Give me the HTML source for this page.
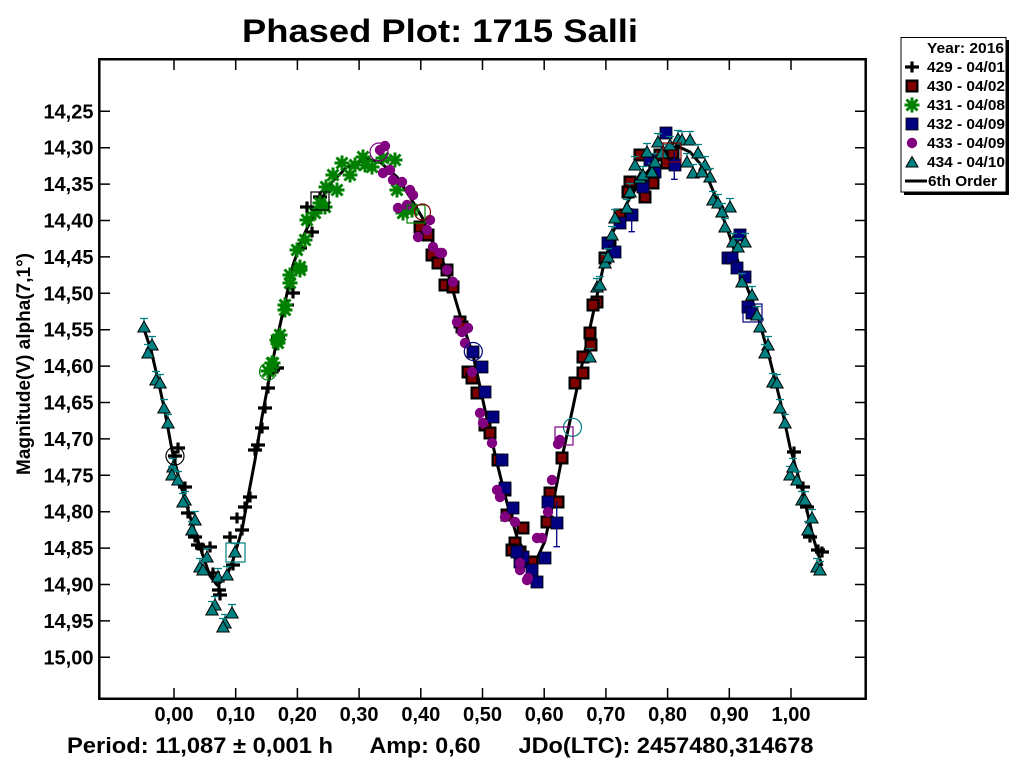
<!DOCTYPE html>
<html><head><meta charset="utf-8"><style>
html,body{margin:0;padding:0;background:#fff;}
svg{display:block;}
text{font-family:"Liberation Sans",Arial,sans-serif;font-weight:bold;fill:#000;}
</style></head><body>
<svg width="1024" height="768" viewBox="0 0 1024 768" xmlns="http://www.w3.org/2000/svg">
<defs>
<g id="P"><path d="M-7,0H7M0,-5.5V5.5" stroke="#000" stroke-width="3.2"/></g>
<g id="R"><rect x="-6.5" y="-6.5" width="13" height="13" fill="#000"/><rect x="-4.2" y="-4.2" width="8.4" height="8.4" fill="#800000"/></g>
<g id="G"><path d="M-7.5,0H7.5M0,-7.5V7.5M-5.5,-5.5L5.5,5.5M-5.5,5.5L5.5,-5.5" stroke="#008000" stroke-width="3"/></g>
<g id="N"><rect x="-6" y="-6" width="12" height="12" fill="#000080" stroke="#000" stroke-width="0.8"/></g>
<g id="C"><circle r="5.2" fill="#800080"/></g>
<g id="T"><path d="M-4,-8.5h8M0,-8.5v3" stroke="#008080" stroke-width="1.3"/><path d="M0,-6L6.2,5H-6.2Z" fill="#008080" stroke="#000" stroke-width="1"/></g>
</defs>

<rect x="0" y="0" width="1024" height="768" fill="#fff"/>

<!-- Title -->
<text x="242" y="42" font-size="32" textLength="396" lengthAdjust="spacingAndGlyphs">Phased Plot: 1715 Salli</text>

<!-- Frame -->
<path d="M99.3,59.3H865.7V698.7H99.3Z" fill="none" stroke="#000" stroke-width="2.5"/>

<!-- Ticks -->
<g stroke="#000" stroke-width="1.5">
<path d="M100,111.3h10M100,147.7h10M100,184.1h10M100,220.5h10M100,256.9h10M100,293.3h10M100,329.7h10M100,366.1h10M100,402.5h10M100,438.9h10M100,475.3h10M100,511.7h10M100,548.1h10M100,584.5h10M100,620.9h10M100,657.3h10"/>
<path d="M865,111.3h-10M865,147.7h-10M865,184.1h-10M865,220.5h-10M865,256.9h-10M865,293.3h-10M865,329.7h-10M865,366.1h-10M865,402.5h-10M865,438.9h-10M865,475.3h-10M865,511.7h-10M865,548.1h-10M865,584.5h-10M865,620.9h-10M865,657.3h-10"/>
<path d="M174,698v-10M235.7,698v-10M297.4,698v-10M359.1,698v-10M420.8,698v-10M482.5,698v-10M544.2,698v-10M605.9,698v-10M667.6,698v-10M729.3,698v-10M791,698v-10"/>
<path d="M174,60v10M235.7,60v10M297.4,60v10M359.1,60v10M420.8,60v10M482.5,60v10M544.2,60v10M605.9,60v10M667.6,60v10M729.3,60v10M791,60v10"/>
</g>

<!-- Y tick labels -->
<g font-size="20" text-anchor="end">
<text x="93.5" y="118.3">14,25</text>
<text x="93.5" y="154.7">14,30</text>
<text x="93.5" y="191.1">14,35</text>
<text x="93.5" y="227.5">14,40</text>
<text x="93.5" y="263.9">14,45</text>
<text x="93.5" y="300.3">14,50</text>
<text x="93.5" y="336.7">14,55</text>
<text x="93.5" y="373.1">14,60</text>
<text x="93.5" y="409.5">14,65</text>
<text x="93.5" y="445.9">14,70</text>
<text x="93.5" y="482.3">14,75</text>
<text x="93.5" y="518.7">14,80</text>
<text x="93.5" y="555.1">14,85</text>
<text x="93.5" y="591.5">14,90</text>
<text x="93.5" y="627.9">14,95</text>
<text x="93.5" y="664.3">15,00</text>
</g>

<!-- X tick labels -->
<g font-size="20" text-anchor="middle">
<text x="174" y="721">0,00</text>
<text x="235.7" y="721">0,10</text>
<text x="297.4" y="721">0,20</text>
<text x="359.1" y="721">0,30</text>
<text x="420.8" y="721">0,40</text>
<text x="482.5" y="721">0,50</text>
<text x="544.2" y="721">0,60</text>
<text x="605.9" y="721">0,70</text>
<text x="667.6" y="721">0,80</text>
<text x="729.3" y="721">0,90</text>
<text x="791" y="721">1,00</text>
</g>

<!-- Y axis title -->
<text transform="translate(30,475) rotate(-90)" font-size="19" textLength="222" lengthAdjust="spacingAndGlyphs">Magnitude(V) alpha(7,1°)</text>

<!-- Bottom info -->
<text x="67" y="753" font-size="22" textLength="266" lengthAdjust="spacingAndGlyphs">Period: 11,087 ± 0,001 h</text>
<text x="369.5" y="753" font-size="22" textLength="111" lengthAdjust="spacingAndGlyphs">Amp: 0,60</text>
<text x="518.5" y="753" font-size="22" textLength="295" lengthAdjust="spacingAndGlyphs">JDo(LTC): 2457480,314678</text>

<!-- Fit curve -->
<polyline fill="none" stroke="#000" stroke-width="3" stroke-linejoin="round" points="143,326 151,350 158,380 164,407 172,450 180,483 192,523 202,553 210,576 217,585 226,578 233,560 242,530 248,497 255,460 262,417 268,385 273,360 278,334 283,312 293,265 303,237 317,207 330,184 347,167 366,159 380,162 397,177 410,197 422,217 433,243 447,270 455,298 463,325 473,355 479,382 485,410 497,463 507,503 517,537 527,557 535,563 545,541 553,503 563,453 573,407 583,360 593,314 603,268 613,232 627,203 643,177 660,157 677,146 690,152 703,167 717,200 730,237 743,277 757,313 770,360 780,400 790,447 803,493 813,537 822,566"/>

<!-- 429 pluses -->
<g>
<use href="#P" x="175" y="456"/><use href="#P" x="178" y="448"/><use href="#P" x="185" y="487"/><use href="#P" x="188" y="513"/>
<use href="#P" x="195" y="537"/><use href="#P" x="198" y="545"/><use href="#P" x="202" y="548"/><use href="#P" x="210" y="547"/>
<use href="#P" x="213" y="573"/><use href="#P" x="220" y="595"/><use href="#P" x="219" y="590"/><use href="#P" x="230" y="537"/>
<use href="#P" x="237" y="518"/><use href="#P" x="242" y="530"/><use href="#P" x="245" y="507"/><use href="#P" x="250" y="497"/>
<use href="#P" x="255" y="450"/><use href="#P" x="258" y="445"/><use href="#P" x="262" y="428"/><use href="#P" x="265" y="408"/>
<use href="#P" x="268" y="388"/><use href="#P" x="273" y="370"/><use href="#P" x="277" y="368"/><use href="#P" x="233" y="565"/>
<use href="#P" x="307" y="207"/><use href="#P" x="312" y="232"/><use href="#P" x="300" y="248"/><use href="#P" x="293" y="293"/>
<use href="#P" x="287" y="305"/><use href="#P" x="278" y="337"/><use href="#P" x="275" y="368"/><use href="#P" x="320" y="197"/>
<use href="#P" x="794" y="452"/><use href="#P" x="803" y="487"/><use href="#P" x="807" y="507"/><use href="#P" x="810" y="537"/>
<use href="#P" x="818" y="550"/><use href="#P" x="822" y="552"/>
</g>

<!-- 430 dark red squares -->
<g>
<use href="#R" x="420" y="227"/><use href="#R" x="428" y="235"/><use href="#R" x="432" y="255"/><use href="#R" x="438" y="263"/>
<use href="#R" x="447" y="270"/><use href="#R" x="445" y="285"/><use href="#R" x="453" y="287"/><use href="#R" x="460" y="322"/>
<use href="#R" x="462" y="327"/><use href="#R" x="468" y="372"/><use href="#R" x="472" y="378"/><use href="#R" x="477" y="393"/>
<use href="#R" x="485" y="425"/><use href="#R" x="490" y="433"/><use href="#R" x="498" y="460"/><use href="#R" x="505" y="490"/>
<use href="#R" x="507" y="515"/><use href="#R" x="523" y="528"/><use href="#R" x="515" y="543"/><use href="#R" x="512" y="550"/>
<use href="#R" x="520" y="552"/><use href="#R" x="532" y="562"/><use href="#R" x="547" y="522"/><use href="#R" x="550" y="493"/>
<use href="#R" x="558" y="502"/><use href="#R" x="562" y="458"/><use href="#R" x="575" y="383"/><use href="#R" x="583" y="373"/>
<use href="#R" x="590" y="333"/><use href="#R" x="597" y="302"/><use href="#R" x="583" y="357"/><use href="#R" x="593" y="305"/>
<use href="#R" x="605" y="258"/><use href="#R" x="610" y="243"/><use href="#R" x="630" y="182"/><use href="#R" x="628" y="192"/>
<use href="#R" x="645" y="197"/><use href="#R" x="653" y="183"/><use href="#R" x="640" y="155"/><use href="#R" x="660" y="155"/>
<use href="#R" x="667" y="163"/><use href="#R" x="673" y="153"/><use href="#R" x="591" y="345"/><use href="#R" x="620" y="215"/>
</g>

<!-- 431 green asterisks -->
<g>
<use href="#G" x="268" y="371"/><use href="#G" x="273" y="363"/><use href="#G" x="277" y="340"/><use href="#G" x="280" y="335"/>
<use href="#G" x="285" y="310"/><use href="#G" x="272" y="363"/><use href="#G" x="278" y="343"/><use href="#G" x="285" y="305"/>
<use href="#G" x="290" y="275"/><use href="#G" x="300" y="270"/><use href="#G" x="297" y="250"/><use href="#G" x="305" y="240"/>
<use href="#G" x="307" y="220"/><use href="#G" x="315" y="213"/><use href="#G" x="320" y="203"/><use href="#G" x="325" y="207"/>
<use href="#G" x="337" y="190"/><use href="#G" x="333" y="175"/><use href="#G" x="342" y="163"/><use href="#G" x="350" y="175"/>
<use href="#G" x="355" y="165"/><use href="#G" x="363" y="157"/><use href="#G" x="365" y="165"/><use href="#G" x="372" y="167"/>
<use href="#G" x="383" y="158"/><use href="#G" x="395" y="160"/><use href="#G" x="397" y="190"/><use href="#G" x="403" y="213"/>
<use href="#G" x="412" y="210"/><use href="#G" x="300" y="267"/><use href="#G" x="290" y="283"/><use href="#G" x="326" y="187"/>
</g>

<!-- 432 navy squares -->
<g>
<use href="#N" x="666" y="133"/><use href="#N" x="675" y="165"/><use href="#N" x="655" y="172"/><use href="#N" x="650" y="160"/>
<use href="#N" x="643" y="187"/><use href="#N" x="632" y="215"/><use href="#N" x="620" y="223"/><use href="#N" x="608" y="243"/>
<use href="#N" x="615" y="252"/><use href="#N" x="740" y="235"/><use href="#N" x="728" y="258"/><use href="#N" x="732" y="258"/>
<use href="#N" x="737" y="268"/><use href="#N" x="745" y="277"/><use href="#N" x="748" y="307"/><use href="#N" x="752" y="313"/>
<use href="#N" x="473" y="352"/><use href="#N" x="482" y="367"/><use href="#N" x="485" y="392"/><use href="#N" x="493" y="417"/>
<use href="#N" x="502" y="460"/><use href="#N" x="505" y="488"/><use href="#N" x="513" y="508"/><use href="#N" x="520" y="562"/>
<use href="#N" x="532" y="570"/><use href="#N" x="537" y="582"/><use href="#N" x="545" y="558"/><use href="#N" x="557" y="523"/>
<use href="#N" x="548" y="502"/><use href="#N" x="523" y="557"/><use href="#N" x="517" y="552"/>
</g>
<path d="M556.7,501.7V546.7M553.5,546.7h6.4M674.3,151.7V179.3M671,179.3h6.6M631.7,208V231.7M628.5,231.7h6.4" stroke="#000080" stroke-width="1.3" fill="none"/>

<!-- 433 purple circles -->
<g>
<use href="#C" x="380" y="150"/><use href="#C" x="385" y="146"/><use href="#C" x="383" y="173"/><use href="#C" x="390" y="170"/>
<use href="#C" x="393" y="180"/><use href="#C" x="402" y="182"/><use href="#C" x="410" y="190"/><use href="#C" x="413" y="195"/>
<use href="#C" x="398" y="208"/><use href="#C" x="407" y="205"/><use href="#C" x="430" y="220"/><use href="#C" x="418" y="237"/>
<use href="#C" x="427" y="230"/><use href="#C" x="433" y="247"/><use href="#C" x="442" y="253"/><use href="#C" x="447" y="270"/>
<use href="#C" x="453" y="282"/><use href="#C" x="457" y="322"/><use href="#C" x="468" y="328"/><use href="#C" x="462" y="332"/>
<use href="#C" x="465" y="343"/><use href="#C" x="440" y="253"/><use href="#C" x="472" y="372"/><use href="#C" x="480" y="413"/>
<use href="#C" x="483" y="423"/><use href="#C" x="492" y="443"/><use href="#C" x="497" y="490"/><use href="#C" x="500" y="497"/>
<use href="#C" x="505" y="517"/><use href="#C" x="515" y="522"/><use href="#C" x="537" y="538"/><use href="#C" x="542" y="538"/>
<use href="#C" x="520" y="563"/><use href="#C" x="520" y="570"/><use href="#C" x="528" y="578"/><use href="#C" x="527" y="580"/>
<use href="#C" x="552" y="480"/><use href="#C" x="548" y="512"/><use href="#C" x="560" y="440"/><use href="#C" x="558" y="444"/>
</g>

<!-- 434 teal triangles -->
<g>
<use href="#T" x="144" y="327"/><use href="#T" x="152" y="345"/><use href="#T" x="148" y="353"/><use href="#T" x="156" y="380"/>
<use href="#T" x="160" y="383"/><use href="#T" x="164" y="408"/><use href="#T" x="168" y="423"/><use href="#T" x="173" y="467"/>
<use href="#T" x="172" y="475"/><use href="#T" x="178" y="480"/><use href="#T" x="185" y="500"/><use href="#T" x="183" y="502"/>
<use href="#T" x="195" y="520"/><use href="#T" x="192" y="530"/><use href="#T" x="207" y="557"/><use href="#T" x="200" y="567"/>
<use href="#T" x="203" y="570"/><use href="#T" x="218" y="577"/><use href="#T" x="227" y="575"/><use href="#T" x="215" y="605"/>
<use href="#T" x="212" y="610"/><use href="#T" x="232" y="613"/><use href="#T" x="225" y="623"/><use href="#T" x="223" y="627"/>
<use href="#T" x="235" y="552"/>
<use href="#T" x="590" y="357"/><use href="#T" x="597" y="287"/><use href="#T" x="600" y="285"/><use href="#T" x="605" y="263"/>
<use href="#T" x="608" y="257"/><use href="#T" x="612" y="235"/><use href="#T" x="615" y="218"/><use href="#T" x="627" y="208"/>
<use href="#T" x="630" y="192"/><use href="#T" x="640" y="178"/><use href="#T" x="643" y="175"/><use href="#T" x="635" y="165"/>
<use href="#T" x="647" y="152"/><use href="#T" x="652" y="172"/><use href="#T" x="655" y="162"/><use href="#T" x="658" y="142"/>
<use href="#T" x="662" y="153"/><use href="#T" x="670" y="145"/><use href="#T" x="678" y="139"/><use href="#T" x="682" y="140"/>
<use href="#T" x="690" y="140"/><use href="#T" x="687" y="162"/><use href="#T" x="698" y="153"/><use href="#T" x="693" y="173"/>
<use href="#T" x="705" y="165"/><use href="#T" x="710" y="177"/><use href="#T" x="702" y="172"/><use href="#T" x="713" y="200"/>
<use href="#T" x="718" y="203"/><use href="#T" x="730" y="207"/><use href="#T" x="722" y="212"/><use href="#T" x="725" y="227"/>
<use href="#T" x="733" y="242"/><use href="#T" x="745" y="242"/><use href="#T" x="738" y="247"/><use href="#T" x="742" y="282"/>
<use href="#T" x="752" y="295"/><use href="#T" x="757" y="315"/><use href="#T" x="760" y="327"/><use href="#T" x="768" y="345"/>
<use href="#T" x="765" y="353"/><use href="#T" x="773" y="382"/><use href="#T" x="777" y="383"/><use href="#T" x="780" y="408"/>
<use href="#T" x="785" y="423"/><use href="#T" x="790" y="475"/><use href="#T" x="793" y="467"/><use href="#T" x="797" y="480"/>
<use href="#T" x="802" y="500"/><use href="#T" x="805" y="500"/><use href="#T" x="812" y="518"/><use href="#T" x="808" y="530"/>
<use href="#T" x="817" y="567"/><use href="#T" x="820" y="570"/>
</g>

<!-- Highlight markers -->
<g fill="none" stroke-width="1.2">
<circle cx="175" cy="456" r="9" stroke="#000"/>
<rect x="311" y="192" width="18" height="18" stroke="#000"/>
<circle cx="268" cy="371.5" r="8.5" stroke="#008000"/>
<rect x="407" y="205" width="18" height="18" stroke="#008000"/>
<circle cx="422.5" cy="212" r="8" stroke="#800000"/>
<circle cx="379" cy="152" r="9" stroke="#800080"/>
<circle cx="473.3" cy="351.5" r="9" stroke="#000080"/>
<circle cx="572.5" cy="427.3" r="9" stroke="#008080"/>
<rect x="555" y="427" width="18" height="18" stroke="#800080"/>
<rect x="226" y="543" width="19" height="19" stroke="#008080"/>
<rect x="743" y="304" width="19" height="18" stroke="#000080"/>
<rect x="663" y="143" width="18" height="19" stroke="#800000"/>
</g>

<!-- Legend -->
<rect x="904" y="40" width="105" height="155" fill="#000"/>
<rect x="901" y="37.5" width="105" height="154.5" fill="#fff" stroke="#000" stroke-width="1"/>
<g font-size="15">
<text x="927" y="53" textLength="77" lengthAdjust="spacingAndGlyphs">Year: 2016</text>
<text x="927" y="72" textLength="78" lengthAdjust="spacingAndGlyphs">429 - 04/01</text>
<text x="927" y="91" textLength="78" lengthAdjust="spacingAndGlyphs">430 - 04/02</text>
<text x="927" y="110" textLength="78" lengthAdjust="spacingAndGlyphs">431 - 04/08</text>
<text x="927" y="129" textLength="78" lengthAdjust="spacingAndGlyphs">432 - 04/09</text>
<text x="927" y="148" textLength="78" lengthAdjust="spacingAndGlyphs">433 - 04/09</text>
<text x="927" y="167" textLength="78" lengthAdjust="spacingAndGlyphs">434 - 04/10</text>
<text x="928" y="186" textLength="69" lengthAdjust="spacingAndGlyphs">6th Order</text>
</g>
<use href="#P" x="912" y="67"/>
<use href="#R" x="912" y="86"/>
<use href="#G" x="912" y="105"/>
<use href="#N" x="912" y="124"/>
<use href="#C" x="912" y="143"/>
<path d="M912,156.5L918,167H906Z" fill="#008080" stroke="#000" stroke-width="1"/>
<path d="M905,181H927" stroke="#000" stroke-width="3"/>
</svg>
</body></html>
